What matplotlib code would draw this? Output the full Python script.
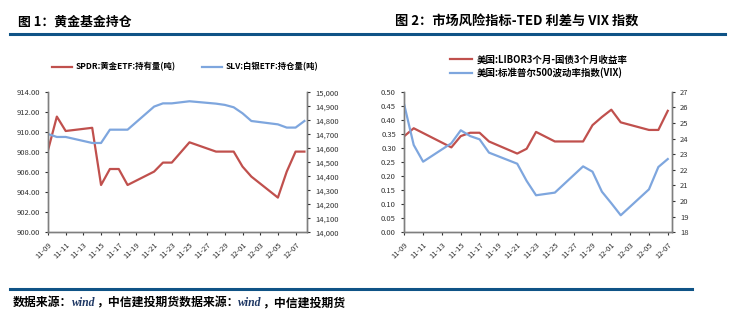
import matplotlib
matplotlib.use('Agg')
import matplotlib.pyplot as plt
import pandas as pd
from matplotlib.ticker import FuncFormatter, MultipleLocator

plt.rcParams['font.family'] = ['Noto Sans CJK SC', 'DejaVu Sans']

# chart 1: gold / silver ETF holdings
dates1 = ['11-09', '11-10', '11-11', '11-14', '11-15', '11-16', '11-17', '11-18',
          '11-21', '11-22', '11-23', '11-25', '11-28', '11-29', '11-30', '12-01',
          '12-02', '12-05', '12-06', '12-07', '12-08']
spdr = [908.2, 911.57, 910.13, 910.45, 904.73, 906.33, 906.33, 904.73,
        906.07, 906.97, 906.97, 909.0, 908.07, 908.07, 908.07, 906.57,
        905.57, 903.47, 906.07, 908.07, 908.07]
slv = [14702, 14681, 14681, 14638, 14638, 14733, 14733, 14733,
       14898, 14921, 14921, 14936, 14919, 14910, 14893, 14850,
       14795, 14771, 14748, 14748, 14795]

# chart 2: TED spread and VIX
dates_ted = ['11-09', '11-10', '11-14', '11-15', '11-16', '11-17', '11-18',
             '11-21', '11-22', '11-23', '11-25', '11-28', '11-29', '11-30',
             '12-01', '12-02', '12-05', '12-06', '12-07']
ted = [0.342, 0.370, 0.302, 0.342, 0.354, 0.354, 0.323,
       0.280, 0.297, 0.357, 0.323, 0.323, 0.381, 0.410,
       0.436, 0.391, 0.364, 0.364, 0.432]
dates_vix = ['11-09', '11-10', '11-11', '11-14', '11-15', '11-16', '11-17', '11-18',
             '11-21', '11-22', '11-23', '11-25', '11-28', '11-29', '11-30',
             '12-01', '12-02', '12-05', '12-06', '12-07']
vix = [26.15, 23.59, 22.52, 23.70, 24.53, 24.16, 23.95, 23.10,
       22.39, 21.29, 20.37, 20.54, 22.22, 21.88, 20.60,
       19.86, 19.09, 20.75, 22.18, 22.69]


def to_dt(lst):
    return pd.to_datetime(['2011-' + d for d in lst])


RED = '#C0504D'
BLUE = '#7EA6DE'
NAVY = '#0F5386'
SPINE = '#7F7F7F'
W, H = 740, 323

fig = plt.figure(figsize=(W / 100, H / 100), dpi=100)


def px_axes(x0, x1, y0, y1):
    return fig.add_axes([x0 / W, 1 - y1 / H, (x1 - x0) / W, (y1 - y0) / H])


def style(ax, ax2, start, end):
    for a in (ax, ax2):
        a.spines['top'].set_visible(False)
        for s in ('left', 'right', 'bottom'):
            a.spines[s].set_color(SPINE)
            a.spines[s].set_linewidth(1.0)
        a.tick_params(labelsize=5.5, colors='#333333', length=2.5, width=0.8)
    ax.set_xlim(start, end)
    ticks = pd.date_range('2011-11-09', end, freq='2D')
    ax.set_xticks(ticks)
    ax.set_xticklabels([t.strftime('%m-%d') for t in ticks], rotation=45,
                       ha='right', rotation_mode='anchor', fontsize=5.5)


# ---- chart 1
ax1 = px_axes(48, 307, 92.3, 232.3)
ax1b = ax1.twinx()
l1, = ax1.plot(to_dt(dates1), spdr, color=RED, lw=1.6)
l2, = ax1b.plot(to_dt(dates1), slv, color=BLUE, lw=1.6)
ax1.set_ylim(900, 914)
ax1.yaxis.set_major_locator(MultipleLocator(2))
ax1.yaxis.set_major_formatter(FuncFormatter(lambda v, p: f'{v:.2f}'))
ax1b.set_ylim(14000, 15000)
ax1b.yaxis.set_major_locator(MultipleLocator(100))
ax1b.yaxis.set_major_formatter(FuncFormatter(lambda v, p: f'{v:,.0f}'))
style(ax1, ax1b, pd.Timestamp('2011-11-09'), pd.Timestamp('2011-12-08 07:00'))
fig.legend([l1, l2], ['SPDR:黄金ETF:持有量(吨)', 'SLV:白银ETF:持仓量(吨)'],
           loc='center', bbox_to_anchor=(185 / W, 1 - 67 / H), ncol=2,
           frameon=False, prop={'size': 6, 'weight': 'bold'}, handlelength=2.4,
           columnspacing=3.2, handletextpad=0.4)

# ---- chart 2
ax2 = px_axes(404.3, 671.7, 91.7, 232.3)
ax2b = ax2.twinx()
l3, = ax2.plot(to_dt(dates_ted), ted, color=RED, lw=1.6)
l4, = ax2b.plot(to_dt(dates_vix), vix, color=BLUE, lw=1.6)
ax2.set_ylim(0, 0.5)
ax2.yaxis.set_major_locator(MultipleLocator(0.05))
ax2.yaxis.set_major_formatter(FuncFormatter(lambda v, p: f'{v:.2f}'))
ax2b.set_ylim(18, 27)
ax2b.yaxis.set_major_locator(MultipleLocator(1))
style(ax2, ax2b, pd.Timestamp('2011-11-09'), pd.Timestamp('2011-12-07 10:00'))
fig.legend([l3, l4], ['美国:LIBOR3个月-国债3个月收益率', '美国:标准普尔500波动率指数(VIX)'],
           loc='upper left', bbox_to_anchor=(446 / W, 1 - 51 / H), ncol=1,
           frameon=False, prop={'size': 6.8, 'weight': 'bold'}, handlelength=2.4,
           handletextpad=0.4, labelspacing=0.3, borderaxespad=0)

# ---- titles, rules, source
fig.text(18 / W, 1 - 21.5 / H, '图 1：黄金基金持仓', fontsize=9.3, fontweight='bold',
         va='center')
fig.text(395 / W, 1 - 22 / H, '图 2：市场风险指标-TED 利差与 VIX 指数', fontsize=9.5,
         fontweight='bold', va='center')
fig.add_artist(plt.Line2D([10 / W, 725 / W], [1 - 34 / H] * 2, color=NAVY, lw=2.2))
fig.add_artist(plt.Line2D([10 / W, 692 / W], [1 - 288.8 / H] * 2, color=NAVY, lw=2.2))

src_y = 1 - 302.5 / H
parts = [('数据来源：', 'black'), ('wind', '#1F3864'), ('，中信建投期货数据来源：', 'black'),
         ('wind', '#1F3864'), ('，中信建投期货', 'black')]
fig.canvas.draw()
renderer = fig.canvas.get_renderer()
x = 13
for s, c in parts:
    if s == 'wind':
        t = fig.text(x / W, src_y, s, fontsize=8.5, color=c, style='italic',
                     fontweight='bold', family='Liberation Serif', va='center')
    else:
        t = fig.text(x / W, src_y, s, fontsize=8.6, color=c, fontweight='bold', va='center')
    x += t.get_window_extent(renderer).width

fig.savefig('out.png', dpi=100)
